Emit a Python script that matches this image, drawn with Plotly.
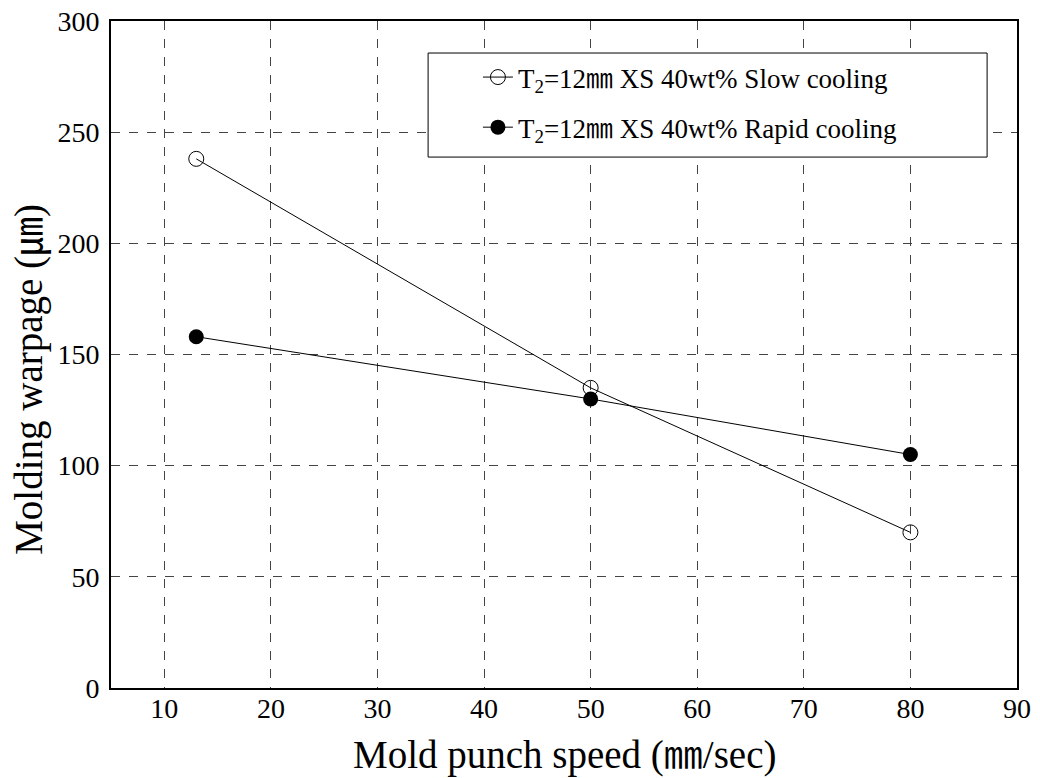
import plotly.graph_objects as go

speed = [13, 50, 80]
slow_cooling = [238, 135, 70]
rapid_cooling = [158, 130, 105]
slow_name = "T<sub>2</sub>=12㎜ XS 40wt% Slow cooling"
rapid_name = "T<sub>2</sub>=12㎜ XS 40wt% Rapid cooling"
x_title = "Mold punch speed (㎜/sec)"
y_title = "Molding warpage (㎛)"
x_ticks = [10, 20, 30, 40, 50, 60, 70, 80, 90]
y_ticks = [0, 50, 100, 150, 200, 250, 300]

FONT = "Liberation Serif, Times New Roman, Noto Sans CJK KR, serif"

fig = go.Figure()
fig.add_trace(go.Scatter(
    x=speed, y=slow_cooling, mode="lines+markers", name=slow_name,
    line=dict(color="black", width=1),
    marker=dict(symbol="circle-open", size=15, color="black", line=dict(width=1, color="black")),
    legendgroup="a",
))
fig.add_trace(go.Scatter(
    x=speed, y=rapid_cooling, mode="lines+markers", name=rapid_name,
    line=dict(color="black", width=1),
    marker=dict(symbol="circle", size=15, color="black"),
    legendgroup="b",
))

axis_common = dict(
    showline=True, linecolor="black", linewidth=2, mirror=True,
    showgrid=True, gridcolor="#444444", griddash="dash", gridwidth=1,
    zeroline=False, ticks="", ticklen=0, automargin=False,
    ticklabeloverflow="allow",
    tickfont=dict(family=FONT, size=28, color="black"),
)

fig.update_layout(
    width=1040, height=778,
    margin=dict(l=103, r=31, t=13, b=98),
    paper_bgcolor="white", plot_bgcolor="white",
    font=dict(family=FONT, color="black"),
    showlegend=True,
    legend=dict(
        x=0.405, y=0.952, xanchor="left", yanchor="top",
        traceorder="grouped", tracegroupgap=12,
        borderwidth=0, bgcolor="rgba(0,0,0,0)",
        font=dict(family=FONT, size=27, color="black"),
    ),
    xaxis=dict(range=[5, 90], tickvals=x_ticks, ticklabelstandoff=-6, **axis_common),
    yaxis=dict(range=[0, 300], tickvals=y_ticks, ticklabelstandoff=4, **axis_common),
    shapes=[
        # legend frame
        dict(type="rect", xref="paper", yref="paper", x0=0.35, x1=0.967, y0=0.796, y1=0.952,
             line=dict(color="black", width=1), fillcolor="white", layer="above"),
    ],
    annotations=[
        dict(text=x_title, xref="paper", yref="paper", x=0.5, y=0,
             xanchor="center", yanchor="middle", yshift=-67, showarrow=False,
             font=dict(family=FONT, size=39, color="black")),
        dict(text=y_title, xref="paper", yref="paper", x=0, y=0.462,
             xanchor="center", yanchor="middle", xshift=-81, textangle=-90, showarrow=False,
             font=dict(family=FONT, size=39, color="black")),
    ],
)

fig.write_html("out.html")
